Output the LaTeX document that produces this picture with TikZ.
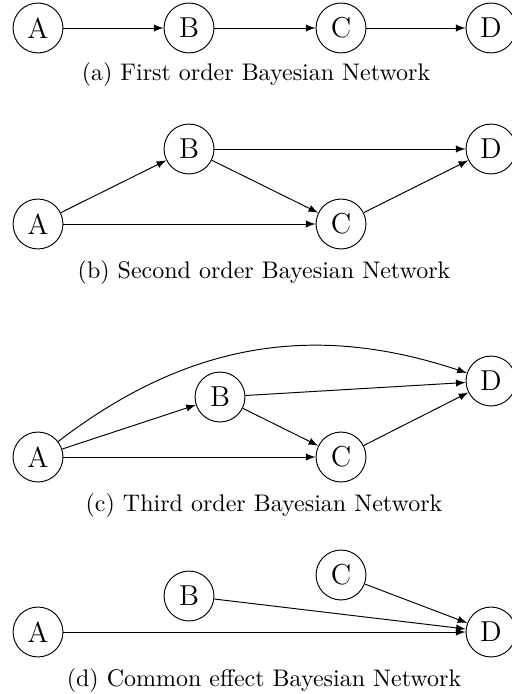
\documentclass[tikz,border=0pt]{standalone}
\usepackage{tikz}

\begin{document}
\begin{tikzpicture}[x=0.4167pt, y=0.4167pt, >=latex,
    var/.style={draw, circle, minimum size=20.8pt, inner sep=0pt, font=\large},
    subcap/.style={inner sep=0pt}]
            \useasboundingbox (0,0) rectangle (511,-694);

            % First order
            \node[var] (a1) at (38,-28) {A};
            \node[var] (b1) at (189,-28) {B};
            \node[var] (c1) at (341,-28) {C};
            \node[var] (d1) at (491,-28) {D};
            \draw[->] (a1) -- (b1);
            \draw[->] (b1) -- (c1);
            \draw[->] (c1) -- (d1);
            \node[subcap] (capa) at (256,-75) {(a) First order Bayesian Network};

            % Second order
            \node[var] (a2) at (38,-224) {A};
            \node[var] (b2) at (189,-149) {B};
            \node[var] (c2) at (341,-224) {C};
            \node[var] (d2) at (491,-149) {D};
            \draw[->] (a2) -- (b2);
            \draw[->] (a2) -- (c2);
            \draw[->] (b2) -- (c2);
            \draw[->] (b2) -- (d2);
            \draw[->] (c2) -- (d2);
            \node[subcap] (capb) at (264,-272) {(b) Second order Bayesian Network};

            % Third order
            \node[var] (a3) at (38,-457) {A};
            \node[var] (b3) at (220,-397) {B};
            \node[var] (c3) at (341,-457) {C};
            \node[var] (d3) at (491,-381) {D};
            \draw[->] (a3) -- (b3);
            \draw[->] (a3) -- (c3);
            \draw[->] (a3) to[bend left=28] (d3);
            \draw[->] (b3) -- (c3);
            \draw[->] (b3) -- (d3);
            \draw[->] (c3) -- (d3);
            \node[subcap] (capc) at (264,-505) {(c) Third order Bayesian Network};

            % Common effect
            \node[var] (a4) at (38,-632) {A};
            \node[var] (b4) at (189,-596) {B};
            \node[var] (c4) at (341,-575) {C};
            \node[var] (d4) at (491,-632) {D};
            \draw[->] (a4) -- (d4);
            \draw[->] (b4) -- (d4);
            \draw[->] (c4) -- (d4);
            \node[subcap] (capd) at (264,-680) {(d) Common effect Bayesian Network};
        \end{tikzpicture}
\end{document}
